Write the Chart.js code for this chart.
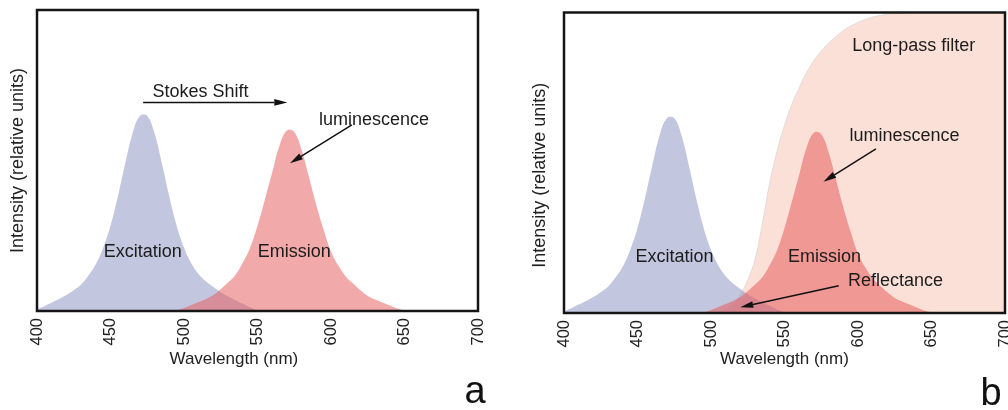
<!DOCTYPE html>
<html>
<head>
<meta charset="utf-8">
<script src="https://cdn.jsdelivr.net/npm/chart.js@4.4.1/dist/chart.umd.min.js"></script>
<style>
html,body{margin:0;padding:0;background:#fff;}
#wrap{position:relative;width:1008px;height:410px;overflow:hidden;}
canvas{position:absolute;top:0;}
#ca{left:0;}
#cb{left:504px;}
</style>
</head>
<body>
<div id="wrap">
<canvas id="ca" width="504" height="410"></canvas>
<canvas id="cb" width="504" height="410"></canvas>
</div>
<script>
// ---------- data ----------
const wavelengths = [400,405,410,415,420,425,430,435,440,445,450,455,460,465,470,475,480,485,490,495,
  500,505,510,515,520,525,530,535,540,545,550,555,560,565,570,575,580,585,590,595,
  600,605,610,615,620,625,630,635,640,645,650,655,660,665,670,675,680,685,690,695,700];

const excitation = [0.006,0.016,0.028,0.040,0.053,0.069,0.088,0.118,0.155,0.21,0.283,0.38,0.49,0.59,0.648,0.648,0.59,0.49,0.38,0.283,
  0.21,0.158,0.122,0.098,0.080,0.062,0.048,0.036,0.024,0.012,0.003,0,0,0,0,0,0,0,0,0,
  0,0,0,0,0,0,0,0,0,0,0,0,0,0,0,0,0,0,0,0,0];

const emission = [0,0,0,0,0,0,0,0,0,0,0,0,0,0,0,0,0,0,0,0.002,
  0.01,0.02,0.03,0.04,0.053,0.073,0.095,0.12,0.16,0.21,0.283,0.37,0.46,0.55,0.600,0.595,0.535,0.445,0.352,0.27,
  0.198,0.151,0.115,0.091,0.069,0.05,0.038,0.028,0.018,0.008,0.002,0,0,0,0,0,0,0,0,0,0];

const longPassFilter = [0,0,0,0,0,0,0,0,0,0,0,0,0,0,0,0,0,0,0,0,
  0,0.004,0.012,0.028,0.062,0.11,0.18,0.30,0.435,0.54,0.625,0.695,0.75,0.80,0.84,0.872,0.898,0.92,0.94,0.955,
  0.967,0.977,0.985,0.99,0.994,0.997,0.999,1,1,1,1,1,1,1,1,1,1,1,1,1,1];

const xTickValues = [400,450,500,550,600,650,700];
const xTitleText = 'Wavelength (nm)';
const yTitleText = 'Intensity (relative units)';

// annotations, in data coordinates [wavelength, intensity]
const notesA = [
  {text:'Stokes Shift', at:[511.2,0.729]},
  {text:'luminescence', at:[629.2,0.634]},
  {text:'Excitation', at:[472,0.196]},
  {text:'Emission', at:[575,0.196]}
];
const arrowsA = [
  {from:[472.2,0.693], to:[570.3,0.693]},
  {from:[614.2,0.618], to:[572.1,0.491]}
];
const notesB = [
  {text:'Long-pass filter', at:[637.9,0.887]},
  {text:'luminescence', at:[631.7,0.588]},
  {text:'Excitation', at:[475.1,0.187]},
  {text:'Emission', at:[577.2,0.187]},
  {text:'Reflectance', at:[625.5,0.107]}
];
const arrowsB = [
  {from:[612.2,0.546], to:[576.5,0.437]},
  {from:[586.9,0.091], to:[519.9,0.019]}
];

// ---------- rendering ----------
const FONT = '"Liberation Sans", Arial, Helvetica, sans-serif';
const pts = vals => wavelengths.map((w,i)=>({x:w, y:vals[i]}));

function makeAnnot(notes, arrows, letter, lx, ly){
  return {
    id:'annot',
    afterDatasetsDraw(chart){
      const {ctx, chartArea:a, scales:{x, y}} = chart;
      ctx.save();
      ctx.lineWidth = 2.5; ctx.strokeStyle = '#151515';
      ctx.strokeRect(a.left, a.top, a.right - a.left, a.bottom - a.top);
      ctx.strokeStyle = '#111'; ctx.fillStyle = '#111'; ctx.lineWidth = 1.5;
      for (const ar of arrows){
        const x0 = x.getPixelForValue(ar.from[0]), y0 = y.getPixelForValue(ar.from[1]);
        const x1 = x.getPixelForValue(ar.to[0]), y1 = y.getPixelForValue(ar.to[1]);
        const ang = Math.atan2(y1 - y0, x1 - x0), L = 13, W = 3.4;
        const bx = x1 - L*Math.cos(ang), by = y1 - L*Math.sin(ang);
        ctx.beginPath(); ctx.moveTo(x0, y0); ctx.lineTo(bx, by); ctx.stroke();
        ctx.beginPath(); ctx.moveTo(x1, y1);
        ctx.lineTo(bx + W*Math.sin(ang), by - W*Math.cos(ang));
        ctx.lineTo(bx - W*Math.sin(ang), by + W*Math.cos(ang));
        ctx.closePath(); ctx.fill();
      }
      ctx.font = '18px ' + FONT; ctx.textAlign = 'center'; ctx.textBaseline = 'middle'; ctx.fillStyle = '#1c1c1c';
      for (const n of notes){
        ctx.fillText(n.text, x.getPixelForValue(n.at[0]), y.getPixelForValue(n.at[1]));
      }
      ctx.restore();
    },
    afterDraw(chart){
      const ctx = chart.ctx;
      ctx.save();
      ctx.font = '38px ' + FONT; ctx.textAlign = 'center'; ctx.textBaseline = 'alphabetic'; ctx.fillStyle = '#111';
      ctx.fillText(letter, lx, ly);
      ctx.restore();
    }
  };
}

function scales(xTitle, yTitle, yTitlePad, yWidth, xHeight){
  return {
    x: {
      type:'linear', min:400, max:700,
      afterBuildTicks: s => { s.ticks = xTickValues.map(v => ({value:v})); },
      ticks:{autoSkip:false, minRotation:90, maxRotation:90, padding:7, color:'#222', font:{family:FONT, size:16.5}},
      grid:{display:false, drawTicks:false},
      border:{display:false},
      title:{display:true, text:xTitle, color:'#222', font:{family:FONT, size:17}, padding:{top:0, bottom:0}},
      afterFit: s => { s.height = xHeight; s.paddingLeft = 0; s.paddingRight = 0; }
    },
    y: {
      type:'linear', min:0, max:1,
      ticks:{display:false},
      grid:{display:false, drawTicks:false},
      border:{display:false},
      title:{display:true, text:yTitle, color:'#222', font:{family:FONT, size:18}, padding:{top:yTitlePad, bottom:0}},
      afterFit: s => { s.width = yWidth; s.paddingTop = 0; s.paddingBottom = 0; }
    }
  };
}

const common = {
  responsive:false, animation:false, events:[],
  plugins:{legend:{display:false}, tooltip:{enabled:false}},
  elements:{point:{radius:0}, line:{tension:0.4}}
};

const emissionDs = color => ({data:pts(emission), fill:'origin', backgroundColor:color, borderColor:'rgba(0,0,0,0)', borderWidth:0, order:0});
const excitationDs = () => ({data:pts(excitation), fill:'origin', backgroundColor:'rgba(140,148,194,0.53)', borderColor:'rgba(0,0,0,0)', borderWidth:0, order:1});

new Chart(document.getElementById('ca'), {
  type:'line',
  data:{datasets:[emissionDs('rgba(231,92,92,0.53)'), excitationDs()]},
  options:Object.assign({}, common, {
    layout:{padding:{left:0, top:10, right:26, bottom:40}},
    scales:scales(xTitleText + '          ', yTitleText, 7.6, 37, 59)
  }),
  plugins:[makeAnnot(notesA, arrowsA, 'a', 475, 403)]
});

new Chart(document.getElementById('cb'), {
  type:'line',
  data:{datasets:[
    emissionDs('rgba(231,92,92,0.55)'),
    excitationDs(),
    {data:pts(longPassFilter), fill:'origin', backgroundColor:'#fbe0d8', borderColor:'rgba(205,205,210,0.55)', borderWidth:1, order:2}
  ]},
  options:Object.assign({}, common, {
    layout:{padding:{left:0, top:12.5, right:3, bottom:40}},
    scales:scales(xTitleText, yTitleText + '     ', 25.2, 60, 57)
  }),
  plugins:[makeAnnot(notesB, arrowsB, 'b', 487, 405)]
});
</script>
</body>
</html>
